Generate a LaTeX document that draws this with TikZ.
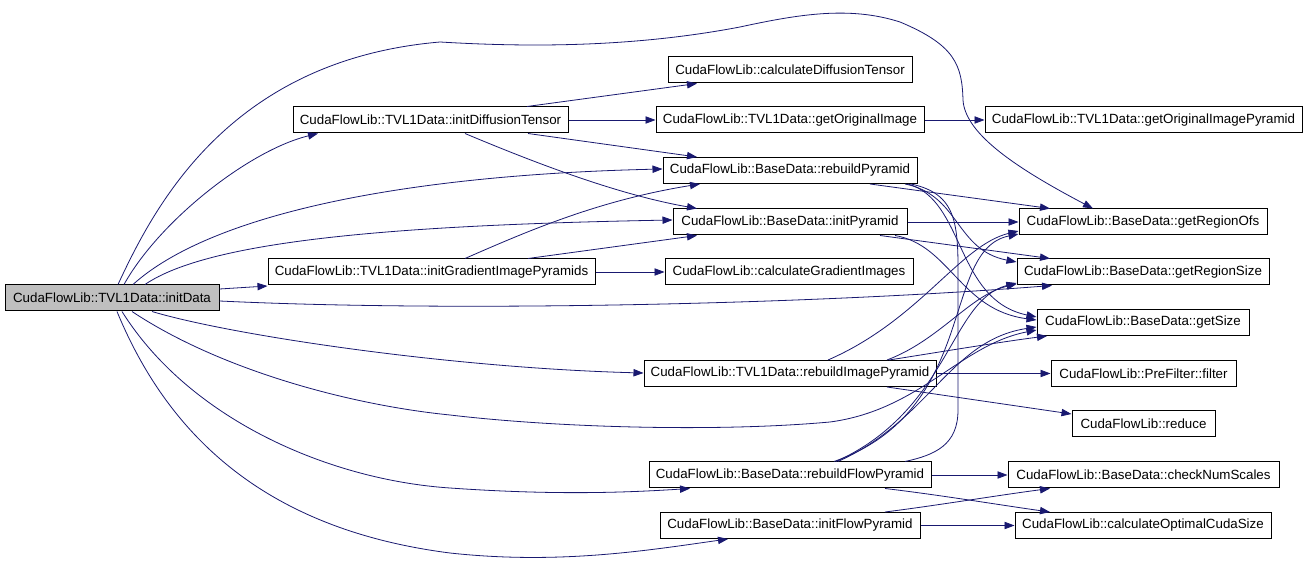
\documentclass[tikz,border=0pt]{standalone}
\usepackage{fontspec}
\setmainfont{Liberation Sans}
\usetikzlibrary{arrows.meta,calc}
\definecolor{edgec}{HTML}{191970}
\definecolor{rootfill}{HTML}{BFBFBF}
\tikzset{
  box/.style={draw=black, line width=0.75pt, fill=white, inner sep=0pt,
    font=\fontsize{10}{12}\selectfont, minimum height=19.5pt},
  e/.style={draw=edgec, line width=0.6pt, -{Triangle[length=7.5pt,width=5.5pt]}},
  eplain/.style={draw=edgec, line width=0.6pt}
}
\newcommand\nd[5]{\node[box, minimum width=#4*0.75pt] (#1) at (#2,#3) {#5};}
\begin{document}
\begin{tikzpicture}[x=0.75pt,y=-0.75pt]
\fill[white] (0,0) rectangle (1307,573);
\useasboundingbox (0,0) rectangle (1307,573);
% nodes
\node[box, fill=rootfill, minimum width=214*0.75pt] (initData) at (112,298) {CudaFlowLib::TVL1Data::initData};
\nd{initDT}{430.5}{120}{275}{CudaFlowLib::TVL1Data::initDiffusionTensor}
\nd{initGIP}{431.5}{272}{327}{CudaFlowLib::TVL1Data::initGradientImagePyramids}
\nd{calcDT}{790}{70}{244}{CudaFlowLib::calculateDiffusionTensor}
\nd{getOrigImg}{790}{120}{268}{CudaFlowLib::TVL1Data::getOriginalImage}
\nd{getOrigImgPyr}{1143.5}{120}{317}{CudaFlowLib::TVL1Data::getOriginalImagePyramid}
\nd{rebuildPyr}{790}{170.5}{254}{CudaFlowLib::BaseData::rebuildPyramid}
\nd{initPyr}{790}{222}{234}{CudaFlowLib::BaseData::initPyramid}
\nd{calcGradImg}{789}{272}{248}{CudaFlowLib::calculateGradientImages}
\nd{getRegionOfs}{1143}{222}{248}{CudaFlowLib::BaseData::getRegionOfs}
\nd{getRegionSize}{1143}{272}{252}{CudaFlowLib::BaseData::getRegionSize}
\nd{getSize}{1143}{322.5}{212}{CudaFlowLib::BaseData::getSize}
\nd{filter}{1143.5}{373.5}{185}{CudaFlowLib::PreFilter::filter}
\nd{reduce}{1143.5}{424}{143}{CudaFlowLib::reduce}
\nd{checkNumScales}{1143.5}{475}{271}{CudaFlowLib::BaseData::checkNumScales}
\nd{calcOptCuda}{1143}{525.5}{256}{CudaFlowLib::calculateOptimalCudaSize}
\nd{rebuildImgPyr}{790}{373.5}{292}{CudaFlowLib::TVL1Data::rebuildImagePyramid}
\nd{rebuildFlowPyr}{790}{475}{282}{CudaFlowLib::BaseData::rebuildFlowPyramid}
\nd{initFlowPyr}{790}{525.5}{260}{CudaFlowLib::BaseData::initFlowPyramid}
% edges from initData
\draw[e] (initData.north -| 124,0) .. controls (160,220) and (250,150) .. (initDT.south -| 318,0);
\draw[e] (initData.north -| 118,0) .. controls (155,205) and (230,60) .. (440,42)
  .. controls (540,48) and (640,46) .. (740,27)
  .. controls (800,14) and (850,6) .. (900,22)
  .. controls (955,45) and (962,65) .. (963,100)
  .. controls (965,135) and (1020,170) .. (getRegionOfs.north -| 1093,0);
\draw[e] (initData.north -| 133,0) .. controls (210,215) and (400,175) .. (rebuildPyr.west |- 0,169);
\draw[e] (initData.north -| 145,0) .. controls (210,240) and (400,225) .. (initPyr.west |- 0,220);
\draw[e] (initData.east |- 0,289) -- (initGIP.west |- 0,286);
\draw[e] (initData.east |- 0,301) .. controls (450,312) and (800,305) .. (getRegionSize.south -| 1052,0);
\draw[e] (initData.south -| 152,0) .. controls (230,335) and (450,368) .. (rebuildImgPyr.west |- 0,373);
\draw[e] (initData.south -| 132,0) .. controls (220,370) and (350,405) .. (450,415)
  .. controls (560,428) and (720,432) .. (830,422)
  .. controls (920,410) and (960,345) .. (getSize.west |- 0,330);
\draw[e] (initData.south -| 122,0) .. controls (190,420) and (330,480) .. (450,488)
  .. controls (550,495) and (620,493) .. (rebuildFlowPyr.south -| 690,0);
\draw[e] (initData.south -| 117,0) .. controls (170,440) and (270,530) .. (450,553)
  .. controls (560,565) and (650,550) .. (initFlowPyr.south -| 728,0);
% initDiffusionTensor
\draw[e] (initDT.north -| 527,0) -- (calcDT.south -| 697,0);
\draw[e] (initDT) -- (getOrigImg);
\draw[e] (initDT.south -| 528,0) -- (rebuildPyr.north -| 697,0);
\draw[e] (initDT.south -| 465,0) .. controls (540,165) and (620,195) .. (initPyr.north -| 697,0);
% initGradientImagePyramids
\draw[e] (initGIP.north -| 465,0) .. controls (530,230) and (600,200) .. (rebuildPyr.south -| 700,0);
\draw[e] (initGIP.north -| 528,0) -- (initPyr.south -| 697,0);
\draw[e] (initGIP) -- (calcGradImg);
% getOriginalImage
\draw[e] (getOrigImg) -- (getOrigImgPyr);
% rebuildPyramid
\draw[e] (rebuildPyr.south -| 870,0) -- (getRegionOfs.north -| 1050,0);
\draw[e] (rebuildPyr.south -| 905,0) .. controls (960,195) and (955,250) .. (getRegionSize.west |- 0,262);
\draw[e] (rebuildPyr.south -| 908,0) .. controls (965,200) and (955,300) .. (getSize.west |- 0,317);
\draw[eplain] (rebuildPyr.south -| 911,0) .. controls (962,195) and (958,230) .. (958,300)
  -- (958,410) .. controls (958,445) and (935,455) .. (rebuildFlowPyr.north -| 905,0);
% initPyramid
\draw[e] (initPyr) -- (getRegionOfs);
\draw[e] (initPyr.south -| 880,0) -- (getRegionSize.north -| 1050,0);
\draw[e] (initPyr.south -| 895,0) .. controls (950,245) and (960,310) .. (getSize.west |- 0,320);
% rebuildImagePyramid
\draw[e] (rebuildImgPyr.north -| 828,0) .. controls (920,320) and (960,245) .. (getRegionOfs.west |- 0,231);
\draw[e] (rebuildImgPyr.north -| 887,0) .. controls (940,340) and (970,295) .. (getRegionSize.west |- 0,284);
\draw[e] (rebuildImgPyr.north -| 889,0) .. controls (940,352) and (1000,342) .. (getSize.south -| 1047,0);
\draw[e] (rebuildImgPyr) -- (filter);
\draw[e] (rebuildImgPyr.south -| 887,0) -- (reduce.west |- 0,414);
% rebuildFlowPyramid
\draw[e] (rebuildFlowPyr.north -| 834,0) .. controls (980,410) and (940,250) .. (getRegionOfs.west |- 0,234);
\draw[e] (rebuildFlowPyr.north -| 836,0) .. controls (950,410) and (950,300) .. (getRegionSize.west |- 0,283);
\draw[e] (rebuildFlowPyr.north -| 838,0) .. controls (930,420) and (950,340) .. (getSize.west |- 0,327);
\draw[e] (rebuildFlowPyr) -- (checkNumScales);
\draw[e] (rebuildFlowPyr.south -| 885,0) .. controls (940,495) and (1000,505) .. (calcOptCuda.north -| 1050,0);
% initFlowPyramid
\draw[e] (initFlowPyr.north -| 885,0) .. controls (940,505) and (1000,495) .. (checkNumScales.south -| 1050,0);
\draw[e] (initFlowPyr) -- (calcOptCuda);
\end{tikzpicture}
\end{document}
